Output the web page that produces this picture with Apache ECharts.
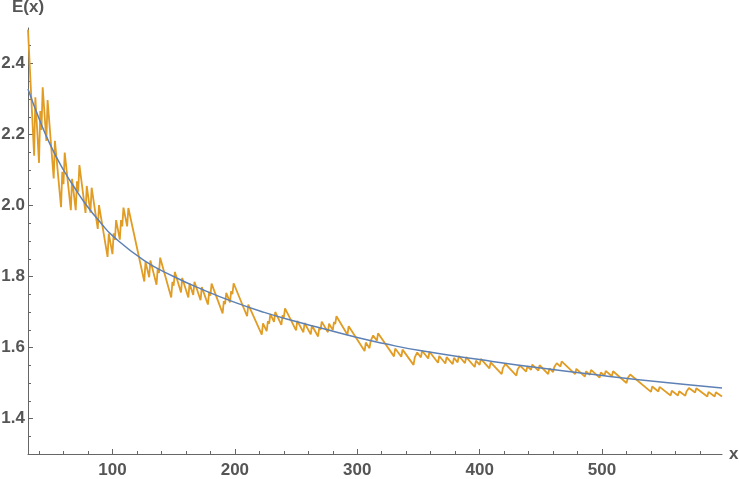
<!DOCTYPE html>
<html>
<head>
<meta charset="utf-8">
<script src="https://cdn.jsdelivr.net/npm/echarts@6.0.0/dist/echarts.min.js"></script>
<style>
  html, body { margin: 0; padding: 0; background: #fff; }
  #chart { width: 739px; height: 479px; }
</style>
</head>
<body>
<div id="chart"></div>
<script>
// jagged E(x): jumps up at each prime, falls until the next one
const stepX = [31,36,37,40,41,42,43,46,47,52,53,58,59,60,61,66,67,70,71,72,73,78,79,82,83,88,89,96,97,
  100,101,102,103,106,107,108,109,112,113,126,127,130,131,136,137,138,139,148,149,150,151,156,157,162,163,166,167,172,173,178,179,180,181,190,191,192,193,196,197,198,199,
  210,211,222,223,226,227,228,229,232,233,238,239,240,241,250,251,256,257,262,263,268,269,270,271,276,277,280,281,282,283,292,293,
  306,307,310,311,312,313,316,317,330,331,336,337,346,347,348,349,352,353,358,359,366,367,372,373,378,379,382,383,388,389,396,397,
  400,401,408,409,418,419,420,421,430,431,432,433,438,439,442,443,448,449,456,457,460,461,462,463,466,467,478,479,486,487,490,491,498,499,
  502,503,508,509,520,521,522,523,540,541,546,547,556,557,562,563,568,569,570,571,576,577,586,587,592,593,598]
const stepY = [2.495,2.14,2.305,2.12,2.266,2.213,2.333,2.182,2.297,2.076,2.182,1.995,2.095,2.060,2.149,1.987,2.075,1.987,2.068,2.039,2.114,1.979,2.055,1.980,2.050,1.934,2.001,1.855,1.921,
  1.863,1.922,1.903,1.959,1.904,1.959,1.941,1.994,1.941,1.993,1.786,1.841,1.798,1.845,1.777,1.823,1.810,1.853,1.741,1.785,1.774,1.813,1.755,1.796,1.741,1.780,1.748,1.785,1.733,1.770,1.721,1.757,1.746,1.780,1.696,1.731,1.722,1.754,1.727,1.759,1.750,1.781,
  1.688,1.721,1.636,1.668,1.646,1.674,1.667,1.694,1.672,1.700,1.664,1.691,1.684,1.710,1.648,1.675,1.643,1.669,1.637,1.662,1.631,1.656,1.650,1.673,1.643,1.667,1.649,1.672,1.666,1.688,1.636,1.660,
  1.590,1.614,1.598,1.619,1.614,1.634,1.619,1.640,1.575,1.597,1.574,1.594,1.551,1.572,1.567,1.586,1.572,1.591,1.569,1.588,1.557,1.576,1.555,1.573,1.553,1.571,1.558,1.576,1.556,1.573,1.545,1.563,
  1.551,1.568,1.541,1.558,1.525,1.542,1.538,1.554,1.521,1.538,1.534,1.549,1.532,1.547,1.537,1.552,1.535,1.550,1.525,1.541,1.531,1.545,1.542,1.556,1.546,1.561,1.525,1.540,1.518,1.533,1.523,1.537,1.515,1.530,
  1.521,1.534,1.519,1.533,1.500,1.514,1.511,1.524,1.475,1.490,1.476,1.489,1.465,1.478,1.465,1.477,1.464,1.476,1.474,1.486,1.473,1.485,1.462,1.475,1.462,1.474,1.462]

// smooth fitted curve
const fitX = [31,40,50,60,70,80,90,100,126,150,173,200,224,250,271,300,322,350,400,450,500,550,598]
const fitY = [2.328,2.245,2.165,2.100,2.045,1.995,1.953,1.915,1.845,1.800,1.764,1.727,1.699,1.673,1.654,1.628,1.611,1.592,1.566,1.542,1.521,1.502,1.486]

const xLabels = [100,200,300,400,500]
const xMinor = [40,60,80,120,140,160,180,220,240,260,280,320,340,360,380,420,440,460,480,520,540,560,580]
const yLabels = [1.4,1.6,1.8,2.0,2.2,2.4]
const yMinor = [1.35,1.45,1.5,1.55,1.65,1.7,1.75,1.85,1.9,1.95,2.05,2.1,2.15,2.25,2.3,2.35,2.45]

const axisColor = '#666'
const textStyle = { color: '#555', fontSize: 17, fontWeight: 'bold', fontFamily: 'Liberation Sans' }

const chart = echarts.init(document.getElementById('chart'))

const option = {
  animation: false,
  grid: { left: 28, right: 17, top: 28, bottom: 25, outerBoundsMode: 'none' },
  xAxis: [
    {
      type: 'value', min: 31, max: 598, position: 'bottom',
      name: 'x', nameLocation: 'end', nameGap: 7, nameTextStyle: textStyle,
      axisLine: { lineStyle: { color: axisColor, width: 1 } },
      axisTick: { inside: true, length: 5, customValues: xLabels, lineStyle: { color: axisColor } },
      axisLabel: { customValues: xLabels, margin: 8, ...textStyle },
      splitLine: { show: false }
    },
    {
      type: 'value', min: 31, max: 598, position: 'bottom',
      axisLine: { show: false },
      axisTick: { inside: true, length: 3, customValues: xMinor, lineStyle: { color: axisColor } },
      axisLabel: { show: false },
      splitLine: { show: false }
    }
  ],
  yAxis: [
    {
      type: 'value', min: 1.3, max: 2.5, position: 'left',
      name: 'E(x)', nameLocation: 'end', nameGap: 12, nameTextStyle: textStyle,
      axisLine: { show: true, lineStyle: { color: axisColor, width: 1 } },
      axisTick: { show: true, inside: true, length: 5, customValues: yLabels, lineStyle: { color: axisColor } },
      axisLabel: { customValues: yLabels, margin: 3, formatter: v => v.toFixed(1), ...textStyle },
      splitLine: { show: false }
    },
    {
      type: 'value', min: 1.3, max: 2.5, position: 'left',
      axisLine: { show: false },
      axisTick: { show: true, inside: true, length: 3, customValues: yMinor, lineStyle: { color: axisColor } },
      axisLabel: { show: false },
      splitLine: { show: false }
    }
  ],
  series: [
    {
      type: 'line',
      data: stepX.map((x, i) => [x, stepY[i]]),
      showSymbol: false,
      lineStyle: { color: '#E19C24', width: 1.8 },
      z: 2
    },
    {
      type: 'line',
      data: fitX.map((x, i) => [x, fitY[i]]),
      smooth: 0.5,
      showSymbol: false,
      lineStyle: { color: '#5E81B5', width: 1.5 },
      z: 3
    }
  ]
}

chart.setOption(option)
</script>
</body>
</html>
